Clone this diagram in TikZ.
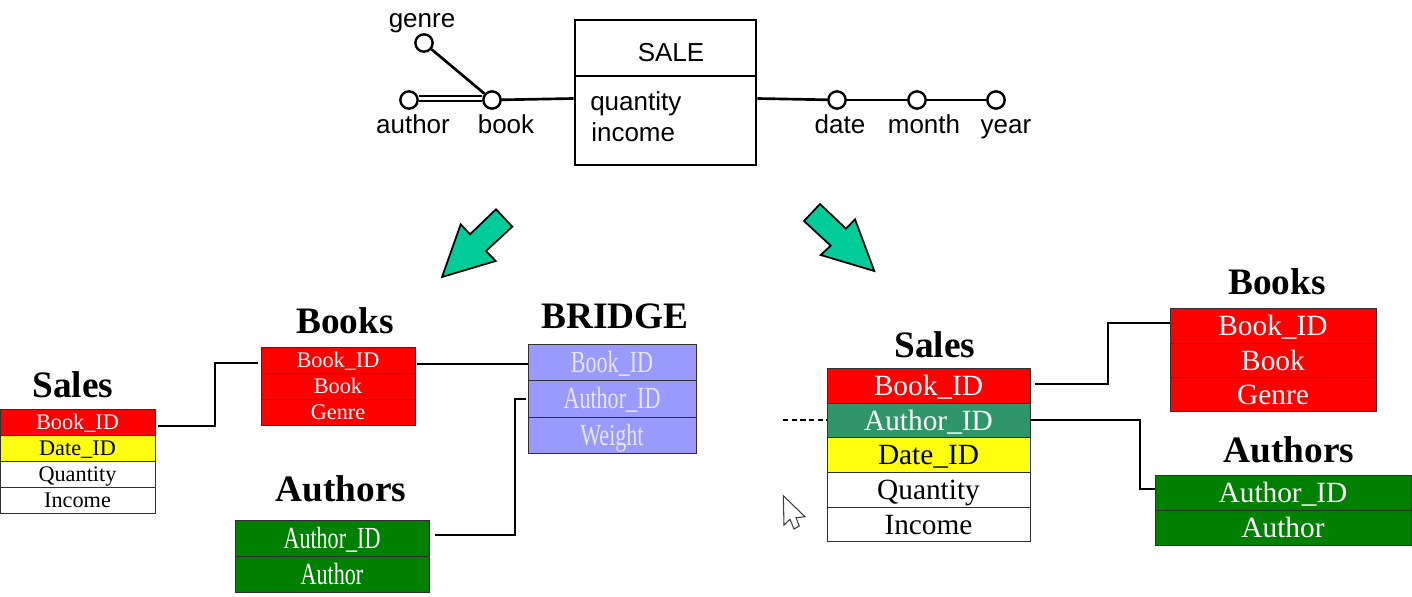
\documentclass[tikz,border=0pt]{standalone}
\usepackage{fontspec}
\setmainfont{Liberation Serif}
\newfontfamily\ersans{Liberation Sans}
\newfontfamily\narrowserif[FakeStretch=0.72]{Liberation Serif}
\definecolor{tred}{HTML}{FF0000}
\definecolor{tyellow}{HTML}{FFFF0F}
\definecolor{tgreen}{HTML}{008000}
\definecolor{tteal}{HTML}{2E9668}
\definecolor{tblue}{HTML}{9A9AFC}
\definecolor{tbluetext}{HTML}{E6E6FF}
\definecolor{arrowgreen}{HTML}{00CC99}
\definecolor{cellline}{HTML}{303030}
\tikzset{
  x=0.75pt,y=-0.75pt,
  cell/.style={draw=cellline,line width=0.6pt,inner sep=0pt,align=center},
  smalltext/.style={font=\fontsize{16.7pt}{20pt}\selectfont,text height=13.5pt,text depth=2pt},
  bigtext/.style={font=\fontsize{22pt}{26pt}\selectfont,text height=17.5pt,text depth=2pt},
  tallertext/.style={font=\narrowserif\fontsize{23pt}{27pt}\selectfont,text height=17.2pt,text depth=2pt},
  redcell/.style={cell,fill=tred,text=white},
  yellowcell/.style={cell,fill=tyellow,text=black},
  whitecell/.style={cell,fill=white,text=black},
  greencell/.style={cell,fill=tgreen,text=white},
  tealcell/.style={cell,fill=tteal,text=white},
  bluecell/.style={cell,fill=tblue,text=tbluetext},
  heading/.style={font=\bfseries\fontsize{28pt}{32pt}\selectfont,inner sep=0pt},
  erbox/.style={draw=black,line width=2pt,fill=white,inner sep=0pt},
  erline/.style={draw=black,line width=2pt},
  dot/.style={circle,draw=black,line width=1.8pt,fill=white,minimum size=13pt,inner sep=0pt},
  erlabel/.style={font=\ersans\fontsize{19.5pt}{23pt}\selectfont,inner sep=0pt,text height=18pt,text depth=4pt},
  conn/.style={draw=black,line width=1.5pt},
  bigarrow/.style={draw=black,line width=1.3pt,fill=arrowgreen,line join=miter},
  pointer/.style={draw=black!75,line width=0.8pt,fill=white,line join=miter}
}
\newcommand\cellbox[7]{\node[#6,minimum width={(#3-#2)*0.75pt},minimum height={(#5-#4)*0.75pt}] (#1) at ({(#2+#3)/2},{(#4+#5)/2}) {#7};}
\begin{document}
\begin{tikzpicture}
\useasboundingbox (0,0) rectangle (1412,596);
\fill[white] (0,0) rectangle (1412,596);

% ER diagram
\node[erbox,minimum width=135.75pt,minimum height=42pt] (saletop) at (665.5,48) {};
\node[erbox,minimum width=135.75pt,minimum height=66.75pt] (salebody) at (665.5,120.5) {};
\node[erlabel] (saletext) at (671,52) {SALE};
\node[erlabel,anchor=west] (qty) at (590,101) {quantity};
\node[erlabel,anchor=west] (inc) at (591,132) {income};
\node[dot] (genre) at (424,43) {};
\node[dot] (author) at (409,100) {};
\node[dot] (book) at (492,100) {};
\node[dot] (date) at (837,100) {};
\node[dot] (month) at (917,100) {};
\node[dot] (year) at (996,100) {};
\node[erlabel] (genrel) at (422,18) {genre};
\node[erlabel] (authorl) at (413,124) {author};
\node[erlabel] (bookl) at (506,124) {book};
\node[erlabel] (datel) at (840,124) {date};
\node[erlabel] (monthl) at (924,124) {month};
\node[erlabel] (yearl) at (1006,124) {year};
\draw[erline] (genre) -- (book);
\draw[erline,line width=1.6pt] ([yshift=3pt]author.east) -- ([yshift=3pt]book.west);
\draw[erline,line width=1.6pt] ([yshift=-1pt]author.east) -- ([yshift=-1pt]book.west);
\draw[erline] (book) -- (salebody.west |- 0,98.5);
\draw[erline] (salebody.east |- 0,98.5) -- (date);
\draw[erline] (date) -- (month);
\draw[erline] (month) -- (year);

% Big arrows
\draw[bigarrow] (442,277) -- (460.7,224.3) -- (470,234.3) -- (496,209.3) -- (512.3,226.7) -- (486,251) -- (495.7,261) -- cycle;
\draw[bigarrow] (874.3,271) -- (855,219.3) -- (846,228.7) -- (820,204) -- (804,221) -- (830.7,245.7) -- (820.7,255) -- cycle;

% Left tables
\node[heading] (h1) at (73,385) {Sales};
\cellbox{sa}{0}{155}{409}{435}{redcell,smalltext}{Book\_ID}
\cellbox{sb}{0}{155}{435}{461}{yellowcell,smalltext}{Date\_ID}
\cellbox{sc}{0}{155}{461}{487}{whitecell,smalltext}{Quantity}
\cellbox{sd}{0}{155}{487}{513}{whitecell,smalltext}{Income}

\node[heading] (h2) at (345,321) {Books};
\cellbox{ba}{261}{415}{347}{373}{redcell,smalltext}{Book\_ID}
\cellbox{bb}{261}{415}{373}{399}{redcell,smalltext}{Book}
\cellbox{bc}{261}{415}{399}{425}{redcell,smalltext}{Genre}

\node[heading] (h3) at (615,316) {BRIDGE};
\cellbox{ga}{528}{696}{344}{380}{bluecell,tallertext}{Book\_ID}
\cellbox{gb}{528}{696}{380}{417}{bluecell,tallertext}{Author\_ID}
\cellbox{gc}{528}{696}{417}{453}{bluecell,tallertext}{Weight}

\node[heading] (h4) at (341,489) {Authors};
\cellbox{aa}{235}{429}{520}{556}{greencell,tallertext}{Author\_ID}
\cellbox{ab}{235}{429}{556}{592}{greencell,tallertext}{Author}

% Right tables
\node[heading] (h5) at (935,345) {Sales};
\cellbox{ra}{827}{1030}{368}{403}{redcell,bigtext}{Book\_ID}
\cellbox{rb}{827}{1030}{403}{437}{tealcell,bigtext}{Author\_ID}
\cellbox{rc}{827}{1030}{437}{472}{yellowcell,bigtext}{Date\_ID}
\cellbox{rd}{827}{1030}{472}{507}{whitecell,bigtext}{Quantity}
\cellbox{re}{827}{1030}{507}{541}{whitecell,bigtext}{Income}

\node[heading] (h6) at (1277,282) {Books};
\cellbox{qa}{1170}{1376}{308}{343}{redcell,bigtext}{Book\_ID}
\cellbox{qb}{1170}{1376}{343}{377}{redcell,bigtext}{Book}
\cellbox{qc}{1170}{1376}{377}{411}{redcell,bigtext}{Genre}

\node[heading] (h7) at (1289,450) {Authors};
\cellbox{pa}{1155}{1411}{475}{510}{greencell,bigtext}{Author\_ID}
\cellbox{pb}{1155}{1411}{510}{545}{greencell,bigtext}{Author}

% Free end of the dashed stub
\coordinate (stub) at (783,420);

% Connectors
\draw[conn,shorten <=2.2pt,shorten >=2.2pt] (sa.east |- 0,426) -- (215,426) |- (ba.west |- 0,363);
\draw[conn,shorten <=1pt] (ba.east |- 0,364) -- (ga.west |- 0,364);
\draw[conn,shorten <=4.5pt,shorten >=1.5pt] (aa.east |- 0,535) -- (515,535) |- (gb.west |- 0,399);
\draw[conn,shorten <=3.75pt] (ra.east |- 0,384) -- (1108,384) |- (qa.west |- 0,323);
\draw[conn] (rb.east) -- (1140,420) |- (pa.west |- 0,489);
\draw[conn,line width=1pt,dash pattern=on 4pt off 2.5pt] (stub) -- (rb.west);

% Mouse pointer
\draw[pointer] (783.3,495.7) -- (805,516.7) -- (796,517.7) -- (799.3,526) -- (794,529) -- (790,519.3) -- (784,525) -- cycle;
\end{tikzpicture}
\end{document}
